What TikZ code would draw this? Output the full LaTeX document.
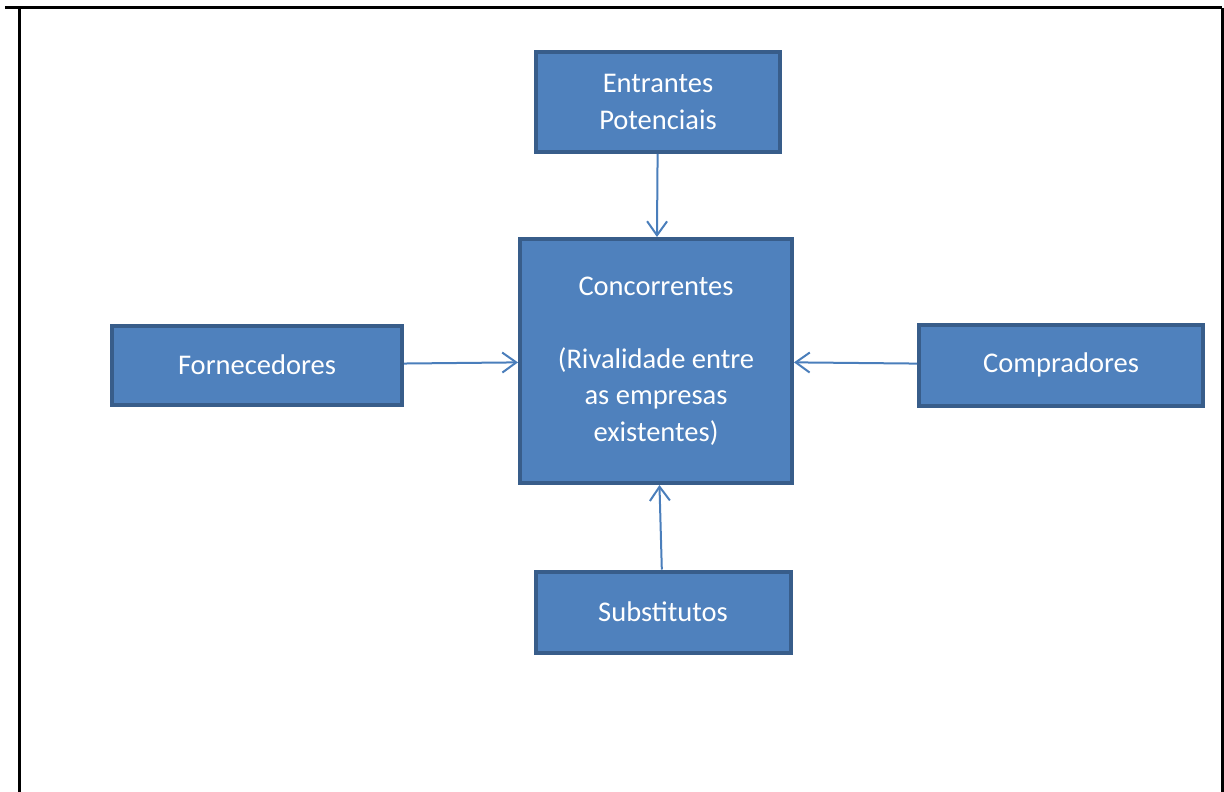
\documentclass[tikz,border=0pt]{standalone}
\usepackage{fontspec}
\setmainfont{Carlito}
\usetikzlibrary{arrows.meta}
\definecolor{boxfill}{HTML}{4F81BD}
\definecolor{boxline}{HTML}{385D8A}
\definecolor{arrowline}{HTML}{4A7EBB}
\begin{document}
\begin{tikzpicture}
[x=1pt,y=-1pt,
  boxdecorate/.style={shape=rectangle,draw=boxline,fill=boxfill,line width=4pt,
    text=white,align=center,inner sep=0pt,
    font=\fontsize{28.5}{36.5}\selectfont},%
  arrowdecorate/.style={-{Straight Barb[length=14pt,width=20pt]},draw=arrowline,line width=2pt}]
\useasboundingbox (0,0) rectangle (1224,792);
%% frame
\draw[line width=3pt] (5,8) -- (1222,8);
\draw[line width=3pt] (19,8) -- (19,792);
\draw[line width=3pt] (1222,8) -- (1222,792);
%% boxes
\foreach \nodename/\x/\y/\w/\h/\label in {entrantes/658/102/244/100/{Entrantes\\Potenciais},
  concorrentes/656/361/272/244/{Concorrentes\\\mbox{}\\(Rivalidade entre\\as empresas\\existentes)},
  fornecedores/257/365/290/79/{Fornecedores},
  compradores/1061/365/284/81/{Compradores},
  substitutos/663/612/255/81/{Substitutos}}
{
  \node (\nodename) at (\x,\y) [boxdecorate,minimum width=\w pt,minimum height=\h pt] {\label};
}
%% arrows
\path
\foreach \startnode/\endnode in {entrantes/concorrentes, fornecedores/concorrentes,
  compradores/concorrentes, substitutos/concorrentes} {
  (\startnode) edge[arrowdecorate] (\endnode)
};
\end{tikzpicture}
\end{document}
